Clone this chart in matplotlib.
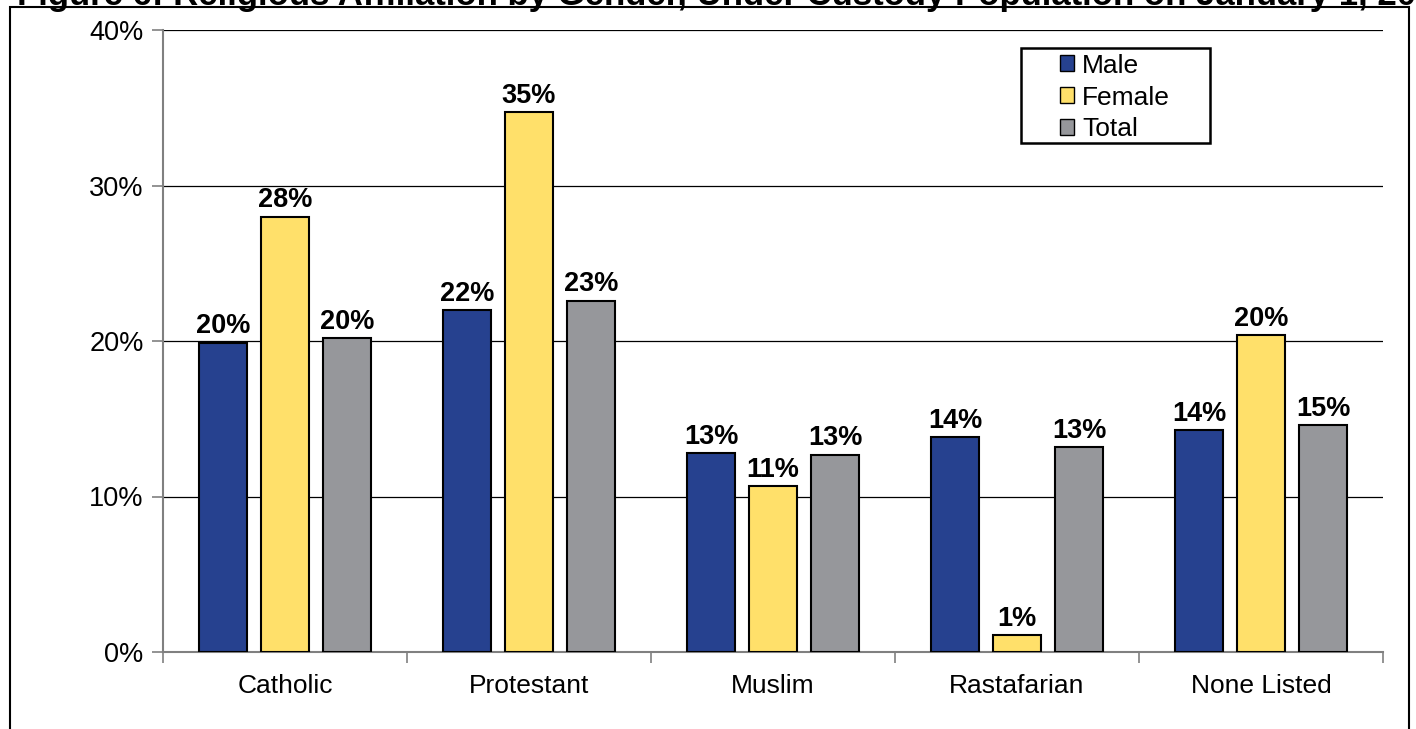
import numpy as np
import matplotlib.pyplot as plt
from matplotlib.patches import Rectangle

plt.rcParams['font.family'] = ['Liberation Sans', 'DejaVu Sans']

# Data
categories = ['Catholic', 'Protestant', 'Muslim', 'Rastafarian', 'None Listed']
male = [19.9, 22.0, 12.8, 13.8, 14.3]
female = [28.0, 34.7, 10.7, 1.1, 20.4]
total = [20.2, 22.6, 12.7, 13.2, 14.6]
male_labels = ['20%', '22%', '13%', '14%', '14%']
female_labels = ['28%', '35%', '11%', '1%', '20%']
total_labels = ['20%', '23%', '13%', '13%', '15%']
yticks = [0, 10, 20, 30, 40]

fig = plt.figure(figsize=(14.16, 7.29), dpi=100)
ax = fig.add_axes([163 / 1416, 1 - 652 / 729, 1220 / 1416, 622 / 729])

# outer frame (bottom edge cut off)
fig.patches.append(Rectangle((10 / 1416, -0.05), 1399 / 1416, 1.05 - 7 / 729,
                             transform=fig.transFigure, fill=False,
                             edgecolor='black', linewidth=1.5))

# title, mostly cut off at the top of the picture
fig.text(0.5 + 28 / 1416, 1 - 5 / 729,
         'Figure 6: Religious Affiliation by Gender, Under Custody Population on January 1, 2010',
         ha='center', va='baseline', fontsize=25, fontweight='bold')

x = np.arange(len(categories))
offset = 0.254
width = 0.197
series = [(male, male_labels, '#26418F', 'Male'),
          (female, female_labels, '#FFE06A', 'Female'),
          (total, total_labels, '#96979B', 'Total')]

for i, (vals, labs, color, name) in enumerate(series):
    pos = x + (i - 1) * offset
    ax.bar(pos, vals, width, color=color, edgecolor='black', linewidth=1.5,
           label=name, zorder=3)
    for px, v, lab in zip(pos, vals, labs):
        ax.text(px, v + 0.2, lab, ha='center', va='bottom', fontsize=19.5,
                fontweight='bold')

ax.set_xlim(-0.5, 4.5)
ax.set_ylim(0, 40)
ax.set_yticks(yticks)
ax.set_yticklabels([f'{t}%' for t in yticks], fontsize=19.5)
ax.yaxis.grid(True, color='black', linewidth=0.9, zorder=0)
ax.set_xticks(np.arange(-0.5, 5, 1))
ax.set_xticklabels([])
ax.set_xticks(x, minor=True)
ax.set_xticklabels(categories, minor=True, fontsize=19)
ax.tick_params(axis='x', which='minor', length=0, pad=16)
ax.tick_params(axis='x', which='major', length=8, color='#808080', width=1.2)
ax.tick_params(axis='y', length=8, color='#808080', width=1.2, pad=6)

for s in ['top', 'right']:
    ax.spines[s].set_visible(False)
for s in ['left', 'bottom']:
    ax.spines[s].set_color('#808080')
    ax.spines[s].set_linewidth(1.5)

# legend box drawn separately for Excel-like padding
ax.add_patch(Rectangle((0.7033, 0.8183), 0.8582 - 0.7033, 0.9711 - 0.8183,
                       transform=ax.transAxes, fill=True, facecolor='white',
                       edgecolor='black', linewidth=1.8, zorder=4))
leg = ax.legend(loc='upper left', bbox_to_anchor=(0.735, 0.962),
                fontsize=19, frameon=False,
                handlelength=0.55, handleheight=0.55, handletextpad=0.3,
                borderpad=0, labelspacing=0.3, borderaxespad=0)
leg.set_zorder(5)
for h in leg.legend_handles:
    h.set_linewidth(1.0)

fig.savefig('out.png', dpi=100)
